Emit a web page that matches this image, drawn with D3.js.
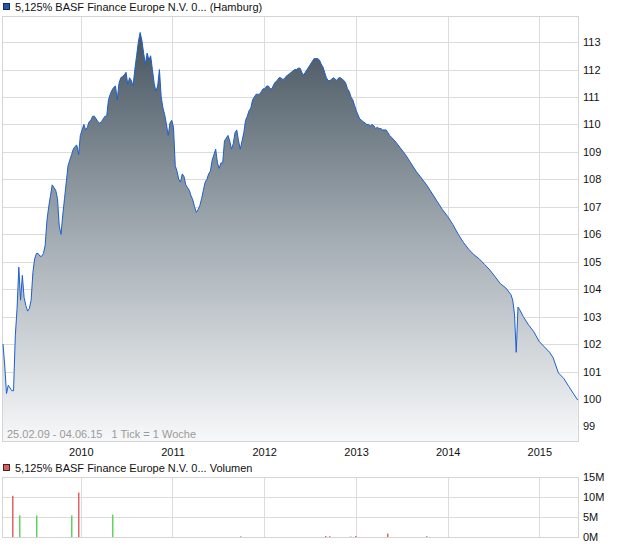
<!DOCTYPE html>
<html><head><meta charset="utf-8">
<script src="https://cdn.jsdelivr.net/npm/d3@7"></script>
<style>body{margin:0;background:#fff}svg{display:block;font-family:"Liberation Sans",Arial,sans-serif}</style>
</head><body><svg id="c" width="620" height="546"></svg>
<script>
const title = "5,125% BASF Finance Europe N.V. 0... (Hamburg)";
const volTitle = "5,125% BASF Finance Europe N.V. 0... Volumen";
const rangeText = "25.02.09 - 04.06.15   1 Tick = 1 Woche";
const startDate = "2009-02-25", endDate = "2015-06-04";
// week index since start (1 tick = 1 week) and price
const weeks = [0,1,2,3,4,5,6,7,8,9,10,11,12,13,14,15,16,17,18,19,20,21,22,23,24,25,26,27,28,29,30,31,32,33,34,35,36,37,38,39,40,41,42,43,44,45,46,47,48,49,50,51,52,53,54,55,56,57,58,59,60,61,62,63,64,65,66,67,68,69,70,71,72,73,74,75,76,77,78,79,80,81,82,83,84,85,86,87,88,89,90,91,92,93,94,95,96,97,98,99,100,101,102,103,104,105,106,107,108,109,110,111,112,113,114,115,116,117,118,119,120,121,122,123,124,125,126,127,128,129,130,131,132,133,134,135,136,137,138,139,140,141,142,143,144,145,146,147,148,149,150,151,152,153,154,155,156,157,158,159,160,161,162,163,164,165,166,167,168,169,170,171,172,173,174,175,176,177,178,179,180,181,182,183,184,185,186,187,188,189,190,191,192,193,194,195,196,197,198,199,200,201,202,203,204,205,206,207,208,209,210,211,212,213,214,215,216,217,218,219,220,223,226,229,232,235,238,241,244,247,250,253,256,259,262,265,268,271,274,277,280,283,286,289,290,291,292,293,294,296,299,302,305,308,311,313,316,319,322,325,327];
const prices = [102.0,101.2,100.2,100.5,100.4,100.3,100.3,102.3,103.3,104.8,103.6,104.5,103.7,103.4,103.2,103.3,103.6,104.6,105.1,105.3,105.3,105.2,105.2,105.3,105.6,106.5,107.0,107.4,107.8,107.7,107.6,107.3,106.3,106.0,106.7,107.3,107.9,108.5,108.7,108.9,109.1,109.2,109.25,108.9,109.6,109.8,110.0,109.8,109.9,110.1,110.15,110.3,110.3,110.2,110.1,110.05,110.1,110.2,110.3,110.3,110.9,111.1,111.25,111.35,111.4,110.9,111.5,111.7,111.75,111.8,111.9,111.45,111.7,111.6,111.4,112.0,112.5,113.0,113.35,113.07,112.6,112.2,112.6,112.35,112.5,112.0,111.5,111.2,111.4,112.0,111.0,110.6,110.35,110.0,109.6,110.05,110.15,109.9,108.5,108.3,108.0,107.9,108.2,108.1,107.8,107.7,107.6,107.4,107.25,107.0,106.8,106.9,107.05,107.3,107.6,107.9,108.0,108.2,108.3,108.7,108.9,109.1,108.6,108.4,108.6,108.6,109.4,109.5,109.6,109.4,109.1,109.3,109.7,109.8,109.4,109.1,109.4,109.7,110.15,110.3,110.5,110.6,110.9,111.0,111.1,111.1,111.1,111.2,111.3,111.3,111.4,111.4,111.3,111.3,111.45,111.55,111.6,111.7,111.7,111.65,111.65,111.75,111.8,111.85,111.9,111.95,112.0,112.0,112.05,112.05,111.9,111.8,111.9,112.0,112.1,112.2,112.3,112.4,112.4,112.4,112.35,112.2,112.1,111.9,111.7,111.6,111.6,111.65,111.7,111.65,111.6,111.7,111.7,111.65,111.6,111.5,111.3,111.2,111.0,110.9,110.7,110.5,110.35,110.2,110.15,110.1,110.05,110.0,110.0,109.95,110.0,109.95,109.85,109.9,109.85,109.85,109.8,109.8,109.8,109.7,109.6,109.4,109.15,108.9,108.6,108.3,108.05,107.8,107.5,107.2,106.9,106.65,106.35,106.0,105.7,105.45,105.25,105.1,104.9,104.7,104.45,104.2,104.05,103.8,103.6,103.1,101.7,103.35,103.25,103.0,102.7,102.45,102.1,101.9,101.7,101.5,100.95,100.75,100.45,100.15,99.96];
const priceTicks = [99,100,101,102,103,104,105,106,107,108,109,110,111,112,113];
const yearTicks = [2010,2011,2012,2013,2014,2015];
// volume bars
const volDates = ["2009-04-02","2009-04-30","2009-07-08","2009-11-24","2009-12-22","2010-05-06","2011-09-28","2012-08-30","2012-09-14","2012-12-06","2012-12-26","2013-05-06","2013-10-08"];
const volValues = [10.3,5.4,5.4,5.4,11.1,5.6,0.15,0.25,0.2,0.15,0.25,0.85,0.2];
const volUp = [false,true,true,true,false,true,false,false,false,true,false,false,false];
const volTicks = [0,5,10,15];

const svg = d3.select("#c");
const L = 3, R = 578, T = 16, B = 441;
const parse = d3.timeParse("%Y-%m-%d");
const t0 = parse(startDate);
const x = d3.scaleTime().domain([t0, parse(endDate)]).range([L, R]);
const y = d3.scaleLinear().domain([98.47, 113.95]).range([B, T]);
const data = weeks.map((w, i) => ({d: d3.timeDay.offset(t0, w * 7), v: prices[i]}));

const defs = svg.append("defs");
const g = defs.append("linearGradient").attr("id","gr").attr("gradientUnits","userSpaceOnUse")
  .attr("x1",0).attr("x2",0).attr("y1",30).attr("y2",B);
g.append("stop").attr("offset",0).attr("stop-color","#45535e");
g.append("stop").attr("offset",0.5).attr("stop-color","#a2abb2");
g.append("stop").attr("offset",1).attr("stop-color","#f7f8f9");

// title
svg.append("rect").attr("x",3.5).attr("y",3.5).attr("width",6).attr("height",6).attr("fill","#2353b5").attr("stroke","#1b2a4a").attr("stroke-width",1);
svg.append("text").attr("x",15).attr("y",11).attr("font-size",11).attr("fill","#111").text(title);

// grid
const gridG = svg.append("g").attr("stroke","#dcdcdc").attr("stroke-width",1);
gridG.selectAll(".h").data(priceTicks).join("line").attr("x1",L).attr("x2",R)
  .attr("y1",d=>Math.round(y(d))+0.5).attr("y2",d=>Math.round(y(d))+0.5);
const yearDates = yearTicks.map(yr => new Date(yr,0,1));
gridG.selectAll(".v").data(yearDates).join("line").attr("y1",T).attr("y2",B)
  .attr("x1",d=>Math.round(x(d))+0.5).attr("x2",d=>Math.round(x(d))+0.5);
svg.append("rect").attr("x",L-0.5).attr("y",T+0.5).attr("width",R-L+1).attr("height",B-T)
  .attr("fill","none").attr("stroke","#d4d4d4");

// area + line
svg.append("path").datum(data).attr("fill","url(#gr)")
  .attr("d", d3.area().x(d=>x(d.d)).y0(B).y1(d=>y(d.v)));
svg.append("path").datum(data).attr("fill","none").attr("stroke","#1d5fcc").attr("stroke-width",1)
  .attr("d", d3.line().x(d=>x(d.d)).y(d=>y(d.v)));

svg.append("text").attr("x",7).attr("y",438).attr("font-size",11).attr("fill","#9a9a9a")
  .attr("xml:space","preserve").style("white-space","pre").text(rangeText);

// right axis
const ay = svg.append("g").attr("transform",`translate(${R},0)`)
  .call(d3.axisRight(y).tickValues(priceTicks).tickSize(0).tickPadding(5).tickFormat(d3.format("d")));
ay.select(".domain").remove();
ay.selectAll("text").attr("font-size",11).attr("fill","#111").attr("font-family","Liberation Sans, Arial, sans-serif");

// bottom axis
const ax = svg.append("g").attr("transform",`translate(0,${B})`)
  .call(d3.axisBottom(x).tickValues(yearDates).tickSize(0).tickPadding(7).tickFormat(d3.timeFormat("%Y")));
ax.select(".domain").remove();
ax.selectAll("text").attr("font-size",11).attr("fill","#111").attr("font-family","Liberation Sans, Arial, sans-serif");

// volume panel
const VT = 477, VB = 537;
svg.append("rect").attr("x",3.5).attr("y",464.5).attr("width",6).attr("height",6).attr("fill","#d9605c").attr("stroke","#4a2020").attr("stroke-width",1);
svg.append("text").attr("x",15).attr("y",472).attr("font-size",11).attr("fill","#111").text(volTitle);
const yv = d3.scaleLinear().domain([0,15]).range([VB, VT]);
const vg = svg.append("g").attr("stroke","#dcdcdc");
vg.selectAll(".h").data(volTicks).join("line").attr("x1",L).attr("x2",R)
  .attr("y1",d=>Math.round(yv(d))+0.5).attr("y2",d=>Math.round(yv(d))+0.5);
vg.selectAll(".v").data(yearDates).join("line").attr("y1",VT).attr("y2",VB)
  .attr("x1",d=>Math.round(x(d))+0.5).attr("x2",d=>Math.round(x(d))+0.5);
svg.append("rect").attr("x",L-0.5).attr("y",VT+0.5).attr("width",R-L+1).attr("height",VB-VT)
  .attr("fill","none").attr("stroke","#d4d4d4");
svg.append("g").selectAll("rect").data(volDates.map((d,i)=>({d:parse(d),v:volValues[i],up:volUp[i]})))
  .join("rect").attr("x",d=>Math.round(x(d.d))).attr("width",1.5)
  .attr("y",d=>yv(d.v)).attr("height",d=>VB-yv(d.v)).attr("fill",d=>d.up?"#5fd35f":"#e06464");
const av = svg.append("g").attr("transform",`translate(${R},0)`)
  .call(d3.axisRight(yv).tickValues(volTicks).tickSize(0).tickPadding(5).tickFormat(d=>d+"M"));
av.select(".domain").remove();
av.selectAll("text").attr("font-size",11).attr("fill","#111").attr("font-family","Liberation Sans, Arial, sans-serif");
</script></body></html>
